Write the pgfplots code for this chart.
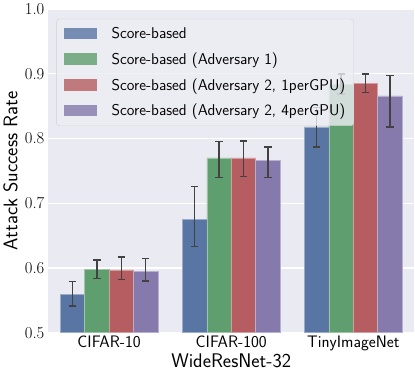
\documentclass[border=0pt]{standalone}
\usepackage{fontspec}
\usepackage{pgfplots}
\pgfplotsset{compat=1.18}
\definecolor{bg}{HTML}{EAEAF2}
\definecolor{c1}{HTML}{5975A4}
\definecolor{c2}{HTML}{5F9E6E}
\definecolor{c3}{HTML}{B55D60}
\definecolor{c4}{HTML}{857AAB}
\definecolor{errc}{HTML}{424242}
\pgfplotsset{
  errbar/.style={
    error bars/.cd, y dir=both, y explicit,
    error bar style={line width=1.4bp, color=errc},
    error mark options={rotate=90, mark size=3.5bp, line width=1.4bp, color=errc},
  },
}
\begin{document}
\begin{tikzpicture}
\begin{axis}[
  scale only axis, width=351bp, height=310bp,
  xmin=-0.5, xmax=2.5, ymin=0.5, ymax=1.0,
  axis background/.style={fill=bg},
  axis line style={draw=none},
  major tick length=0pt,
  ymajorgrids, grid style={white, line width=1.1bp},
  xtick={0,1,2}, xticklabels={CIFAR-10,CIFAR-100,TinyImageNet},
  ytick={0.5,0.6,0.7,0.8,0.9,1.0},
  /pgf/number format/assume math mode=true,
  yticklabel style={/pgf/number format/fixed, /pgf/number format/precision=1,
    /pgf/number format/fixed zerofill, font=\rmfamily\fontsize{16}{16}\selectfont},
  xticklabel style={font=\sffamily\fontsize{16}{16}\selectfont},
  xlabel={WideResNet-32}, ylabel={Attack Success Rate},
  label style={font=\sffamily\fontsize{19}{19}\selectfont},
  xlabel style={yshift=4bp},
  ybar=0pt, bar width=0.2,
  legend cell align=left,
  legend image code/.code={
    \path[draw=none, fill=none] (-1bp,0) -- (44bp,0);
    \fill[#1, draw=none, sharp corners] (0bp,-5.5bp) rectangle (32bp,5.5bp);},
  legend style={at={(0.022,0.97)}, anchor=north west,
    fill=bg!85!white, fill opacity=0.8, text opacity=1, draw=gray!35,
    rounded corners=3bp, font=\sffamily\fontsize{15}{15}\selectfont,
    row sep=8bp, inner xsep=6bp, inner ysep=6bp},
]
\addplot[fill=c1, draw=c1!60!white, line width=0.6bp, errbar] coordinates {
  (0,0.559) += (0,0.020) -= (0,0.018)
  (1,0.675) += (0,0.051) -= (0,0.042)
  (2,0.818) += (0,0.030) -= (0,0.031)
};
\addlegendentry{Score-based}
\addplot[fill=c2, draw=c2!60!white, line width=0.6bp, errbar] coordinates {
  (0,0.598) += (0,0.014) -= (0,0.014)
  (1,0.770) += (0,0.025) -= (0,0.030)
  (2,0.884) += (0,0.016) -= (0,0.015)
};
\addlegendentry{Score-based (Adversary 1)}
\addplot[fill=c3, draw=c3!60!white, line width=0.6bp, errbar] coordinates {
  (0,0.597) += (0,0.020) -= (0,0.015)
  (1,0.770) += (0,0.026) -= (0,0.029)
  (2,0.885) += (0,0.015) -= (0,0.014)
};
\addlegendentry{Score-based (Adversary 2, 1perGPU)}
\addplot[fill=c4, draw=c4!60!white, line width=0.6bp, errbar] coordinates {
  (0,0.595) += (0,0.020) -= (0,0.015)
  (1,0.766) += (0,0.021) -= (0,0.026)
  (2,0.866) += (0,0.031) -= (0,0.048)
};
\addlegendentry{Score-based (Adversary 2, 4perGPU)}
\end{axis}
\end{tikzpicture}
\end{document}
